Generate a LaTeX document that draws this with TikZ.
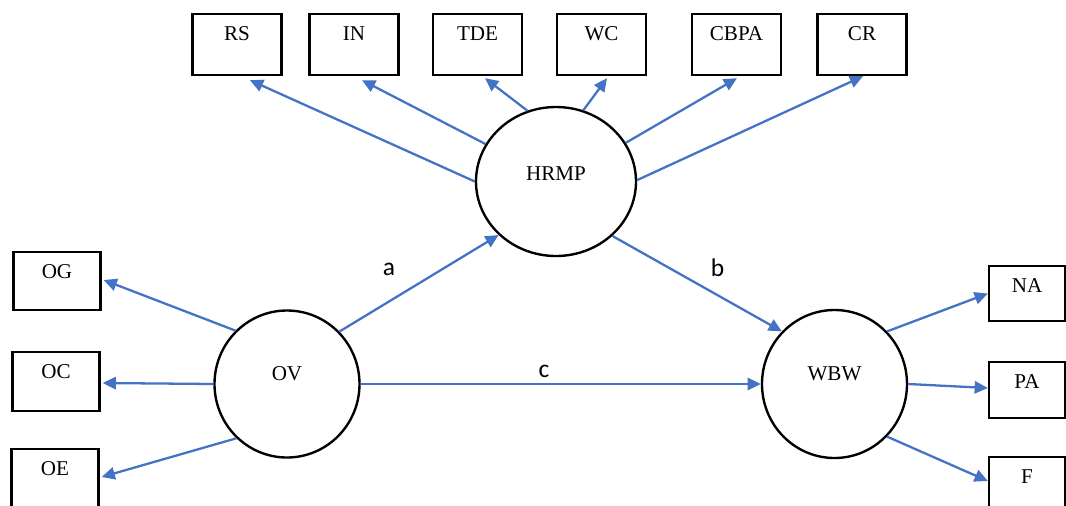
\documentclass[tikz,border=0pt]{standalone}
\usepackage{fontspec}
\setmainfont{Liberation Serif}
\newfontfamily\labfont{Carlito}
\usetikzlibrary{arrows.meta,shapes.geometric,calc}
\definecolor{arrowblue}{RGB}{68,114,196}
\begin{document}
\begin{tikzpicture}[x=0.02cm,y=-0.02cm,
  box/.style 2 args={draw=black,line width=1.35pt,inner sep=0pt,
    minimum width=#1*0.02cm,text height=0.52cm,text depth=#2*0.02cm,
    font=\fontsize{12}{14}\selectfont},
  lv/.style 2 args={ellipse,draw=black,line width=1.35pt,inner sep=0pt,
    minimum width=#1*0.02cm,minimum height=#2*0.02cm,
    font=\fontsize{12}{14}\selectfont},
  con/.style={draw=arrowblue,line width=1.3pt,
    -{Triangle[length=7.5pt,width=7pt]}},
  lab/.style={font=\labfont\fontsize{14.5}{16}\selectfont,anchor=base,inner sep=0pt}]
\useasboundingbox (0,0) rectangle (1066,505);
\clip (0,0) rectangle (1066,505);

% top indicator boxes
\node[box={89}{35}] (rs)   at (237,44.5)   {RS};
\node[box={89}{35}] (in)   at (354,44.5)   {IN};
\node[box={89}{35}] (tde)  at (477.5,44.5) {TDE};
\node[box={89}{35}] (wc)   at (601.5,44.5) {WC};
\node[box={89}{35}] (cbpa) at (736.5,44.5) {CBPA};
\node[box={89}{35}] (cr)   at (862,44.5)   {CR};

% left indicator boxes
\node[box={87}{32}] (og) at (57,281)    {OG};
\node[box={87}{33}] (oc) at (56,381.5)  {OC};
\node[box={87}{33}] (oe) at (55,478.5)  {OE};

% right indicator boxes
\node[box={76}{29}] (na) at (1027,293.5) {NA};
\node[box={76}{30}] (pa) at (1027,390)   {PA};
\node[box={76}{30}] (f)  at (1027,485)   {F};

% latent variables
\node[lv={160}{149},text height=0.2cm,text depth=0.26cm] (hrmp) at (556,181.5) {HRMP};
\node[lv={145}{147},text height=0.2cm,text depth=0.36cm] (ov)   at (287,384)   {OV};
\node[lv={145}{148},text height=0.2cm,text depth=0.36cm] (wbw)  at (834.5,384) {WBW};

% HRMP indicators
\draw[con] (hrmp.180) -- ($(rs.south)+(13,4)$);
\draw[con] (hrmp.152) -- ($(in.south)+(8,4)$);
\draw[con] (hrmp.112) -- ($(tde.south)+(7.5,2)$);
\draw[con] (hrmp.69)  -- ($(wc.south)+(5.5,2)$);
\draw[con] (hrmp.29)  -- ($(cbpa.south)+(0.5,2)$);
\draw[con] (hrmp.1)   -- ($(cr.south)+(1,0)$);

% OV indicators
\draw[con] (ov.134) -- ($(og.east)+(2,-1)$);
\draw[con] (ov.180) -- ($(oc.east)+(2,1.5)$);
\draw[con] (ov.227) -- ($(oe.east)+(2,-1.5)$);

% WBW indicators
\draw[con] (wbw.45)  -- (na.west);
\draw[con] (wbw.0)   -- ($(pa.west)+(0,-2)$);
\draw[con] (wbw.315) -- ($(f.west)+(0,-4)$);

% structural paths
\draw[con] (ov.45)    -- (hrmp.223);
\draw[con] (hrmp.316) -- (wbw.135);
\draw[con] (ov.0)     -- (wbw.180);

% path labels
\node[lab] (la) at (389,275)   {a};
\node[lab] (lb) at (717.5,276.5) {b};
\node[lab] (lc) at (544,377)   {c};
\end{tikzpicture}
\end{document}
